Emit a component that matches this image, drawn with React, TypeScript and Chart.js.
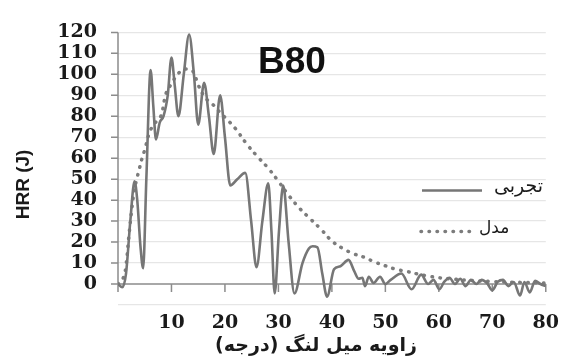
import { useEffect, useRef } from 'react';
import { Chart, registerables } from 'chart.js';

Chart.register(...registerables);

// ---- data ----
const expAngle = [0, 0.8, 1.5, 2.3, 3.1, 3.6, 4.2, 4.7, 5.3, 6.1, 6.6, 7.1, 7.8, 8.5, 9.3, 10.0, 10.6, 11.3, 12.3, 13.3, 14.2, 15.0, 16.1, 17.0, 17.9, 19.1, 20.0, 21.0, 22.3, 23.8, 24.9, 25.9, 27.0, 28.1, 28.7, 29.3, 30.1, 30.9, 31.9, 33.0, 34.5, 35.7, 36.4, 37.3, 38.2, 39.1, 40.4, 41.6, 43.1, 44.2, 45.0, 45.7, 46.2, 46.9, 47.8, 49.0, 50.0, 51.0, 53.0, 54.9, 56.7, 58.0, 59.0, 60.1, 61.0, 62.0, 63.0, 64.0, 65.0, 66.0, 67.0, 68.0, 69.0, 70.0, 71.0, 72.0, 73.0, 74.0, 75.2, 76.0, 77.0, 78.0, 79.0, 80.0];
const expHrr = [0, -1.5, 5, 30, 49, 40, 18, 7.5, 50, 102, 85, 69, 77, 80, 90, 108, 95, 80, 100, 119, 100, 76, 96, 80, 62, 90, 70, 47, 50, 53, 30, 8, 30, 48, 25, -4.5, 25, 47, 20, -4.5, 10, 17, 18, 17.5, 5, -6, 7, 8.5, 11.5, 6, 2.5, 3, -1, 3.5, 0.5, 3.5, 0, 2, 5, -2.5, 4.5, 0, 2, -2.5, 1, 3, 0, 2.5, -1, 2, 0, 2, 0.5, -3, 1, 2, -1, 1, -5.5, 1, -4, 1.5, 0, -1];

const modelAngle = [0, 1, 1.5, 2, 2.5, 3, 3.5, 4, 4.5, 5, 6, 7, 8, 9, 10, 11, 12, 13, 14, 15, 16, 17, 18, 19, 20, 22, 24, 26, 28, 30, 32, 34, 36, 38, 40, 42, 44, 46, 48, 50, 52, 54, 56, 58, 60, 63, 66, 70, 75, 80];
const modelHrr = [0, 3, 9, 22, 34, 44, 50, 55, 60, 64, 73, 77, 80, 91, 95.5, 99.5, 102, 102.5, 101.5, 95, 90, 87, 85, 82, 79.5, 74, 67, 61, 55.5, 49, 42, 36, 31, 26, 20.5, 17, 14.5, 12.8, 10.5, 8.7, 7, 6, 4.8, 3.8, 3, 2.3, 1.7, 1.2, 0.8, 0.5];

const yTickValues = [0, 10, 20, 30, 40, 50, 60, 70, 80, 90, 100, 110, 120];
const xTickValues = [10, 20, 30, 40, 50, 60, 70, 80];

const chartTitle = 'B80';
const seriesLabels = ['تجربی', 'مدل'];
const xTitle = 'زاویه میل لنگ (درجه)';
const yTitle = 'HRR (J)';

const W = 566;
const H = 356;
const LINE_COLOR = '#767676';
const DOT_COLOR = '#7c7c7c';
const AXIS_COLOR = '#8c8c8c';

const decor = {
  id: 'decor',
  beforeDatasetsDraw(chart: any) {
    const { ctx, chartArea: a, scales } = chart;
    const x = scales.x;
    const y = scales.y;
    const y0 = y.getPixelForValue(0);
    ctx.save();
    ctx.strokeStyle = AXIS_COLOR;
    ctx.lineWidth = 1.5;
    ctx.beginPath();
    ctx.moveTo(a.left, a.top);
    ctx.lineTo(a.left, y0 + 8);
    for (const v of yTickValues) {
      const py = y.getPixelForValue(v);
      ctx.moveTo(a.left - 7, py);
      ctx.lineTo(a.left, py);
    }
    ctx.moveTo(a.left, y0);
    ctx.lineTo(a.right, y0);
    for (const v of xTickValues) {
      const px = x.getPixelForValue(v);
      ctx.moveTo(px, y0);
      ctx.lineTo(px, y0 + 8);
    }
    ctx.stroke();
    ctx.restore();
  },
  afterDraw(chart: any) {
    const { ctx, chartArea: a } = chart;
    ctx.save();
    // title
    ctx.fillStyle = '#111';
    ctx.font = 'bold 37px "Liberation Sans", Arial, sans-serif';
    ctx.textAlign = 'center';
    ctx.textBaseline = 'middle';
    ctx.fillText(chartTitle, a.left + 174, a.top + 30);

    // legend
    ctx.lineCap = 'butt';
    ctx.strokeStyle = LINE_COLOR;
    ctx.lineWidth = 2.5;
    ctx.beginPath();
    ctx.moveTo(a.left + 304, a.top + 158);
    ctx.lineTo(a.left + 364, a.top + 158);
    ctx.stroke();

    ctx.strokeStyle = DOT_COLOR;
    ctx.lineWidth = 3.5;
    ctx.lineCap = 'round';
    ctx.setLineDash([0.5, 7.5]);
    ctx.beginPath();
    ctx.moveTo(a.left + 303, a.top + 199);
    ctx.lineTo(a.left + 356, a.top + 199);
    ctx.stroke();
    ctx.setLineDash([]);

    ctx.fillStyle = '#1a1a1a';
    ctx.textBaseline = 'middle';
    ctx.textAlign = 'left';
    (ctx as any).direction = 'ltr';
    ctx.font = '19px "DejaVu Sans", sans-serif';
    ctx.fillText(seriesLabels[0], a.left + 376, a.top + 155);
    ctx.font = '17px "DejaVu Sans", sans-serif';
    ctx.fillText(seriesLabels[1], a.left + 361, a.top + 196);

    // axis titles
    (ctx as any).direction = 'rtl';
    ctx.textAlign = 'center';
    ctx.font = 'bold 19px "DejaVu Sans", sans-serif';
    ctx.fillText(xTitle, a.left + 198, H - 10);
    (ctx as any).direction = 'ltr';
    ctx.translate(24, a.top + 152);
    ctx.rotate(-Math.PI / 2);
    ctx.font = 'bold 19px "Liberation Sans", Arial, sans-serif';
    ctx.fillText(yTitle, 0, 0);
    ctx.restore();
  },
};

export default function App() {
  const ref = useRef<HTMLCanvasElement | null>(null);

  useEffect(() => {
    document.body.style.margin = '0';
    const canvas = ref.current;
    if (!canvas) return;
    const tickFont = { family: '"DejaVu Serif", serif', size: 19, weight: 'bold' as const };
    const chart = new Chart(canvas, {
      type: 'line',
      data: {
        datasets: [
          {
            label: seriesLabels[0],
            data: expAngle.map((a, i) => ({ x: a, y: expHrr[i] })),
            borderColor: LINE_COLOR,
            borderWidth: 2.6,
            pointRadius: 0,
            cubicInterpolationMode: 'monotone',
            fill: false,
          },
          {
            label: seriesLabels[1],
            data: modelAngle.map((a, i) => ({ x: a, y: modelHrr[i] })),
            borderColor: DOT_COLOR,
            borderWidth: 3.5,
            borderCapStyle: 'round',
            borderDash: [0.5, 7.5],
            pointRadius: 0,
            tension: 0.4,
            fill: false,
          },
        ],
      },
      options: {
        animation: false,
        responsive: false,
        devicePixelRatio: 1,
        layout: { padding: { top: 24, right: 15, left: 0, bottom: 0 } },
        plugins: {
          legend: { display: false },
          tooltip: { enabled: false },
          title: { display: false },
        },
        scales: {
          x: {
            type: 'linear',
            min: 0,
            max: 80,
            grid: { display: false, drawTicks: false },
            border: { display: false },
            afterFit: (s: any) => {
              s.height = 51;
            },
            ticks: {
              stepSize: 10,
              autoSkip: false,
              maxRotation: 0,
              padding: 7,
              color: '#1a1a1a',
              font: tickFont,
              callback: (v: any) => (v === 0 ? '' : String(v)),
            },
          },
          y: {
            min: -10,
            max: 120,
            grid: {
              drawTicks: false,
              color: (c: any) => (c.tick && c.tick.value === 0 ? 'rgba(0,0,0,0)' : '#e6e6e6'),
              lineWidth: 1.3,
            },
            border: { display: false },
            afterFit: (s: any) => {
              s.width = 118;
            },
            ticks: {
              stepSize: 10,
              autoSkip: false,
              padding: 21,
              color: '#1a1a1a',
              font: tickFont,
              callback: (v: any) => (v < 0 ? '' : String(v)),
            },
          },
        },
      },
      plugins: [decor],
    } as any);
    return () => chart.destroy();
  }, []);

  return <canvas ref={ref} width={W} height={H} style={{ display: 'block', width: W, height: H }} />;
}
